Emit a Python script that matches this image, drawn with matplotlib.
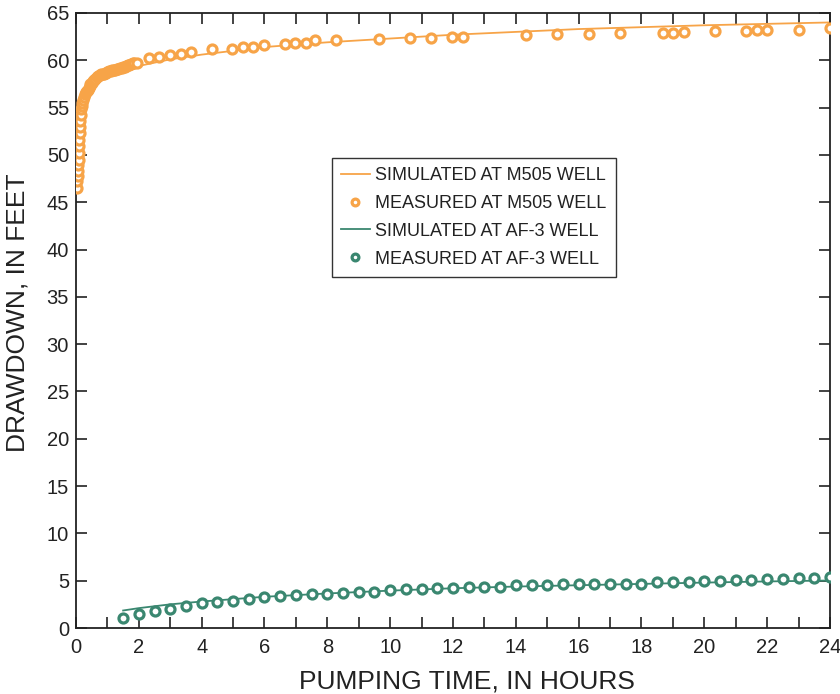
import matplotlib.pyplot as plt
from matplotlib.ticker import MultipleLocator

plt.rcParams['font.family'] = ['Liberation Sans', 'DejaVu Sans']

# simulated drawdown, M505 well
sim_m505_t = [0.0, 0.02, 0.05, 0.1, 0.2, 0.35, 0.5, 0.75, 1.0, 1.5, 2.0, 3.0, 4.0, 5.0, 6.0,
              8.0, 10.0, 12.0, 14.0, 16.0, 18.0, 20.0, 22.0, 24.0]
sim_m505_dd = [48.0, 50.5, 52.5, 54.2, 55.6, 56.6, 57.2, 57.9, 58.4, 58.9, 59.4, 60.1, 60.6,
               61.0, 61.4, 61.9, 62.3, 62.7, 63.0, 63.3, 63.5, 63.7, 63.85, 64.0]

# measured drawdown, M505 well
meas_m505_t = [0.03, 0.04, 0.05, 0.06, 0.07, 0.08, 0.09, 0.1, 0.11, 0.12, 0.13, 0.14, 0.15,
               0.16, 0.18, 0.2, 0.22, 0.25, 0.28, 0.31, 0.34, 0.37, 0.4, 0.43, 0.46, 0.5,
               0.54, 0.58, 0.62, 0.66, 0.7, 0.75, 0.8, 0.85, 0.9, 0.95, 1.0, 1.05, 1.1, 1.15,
               1.2, 1.25, 1.3, 1.35, 1.4, 1.45, 1.5, 1.55, 1.6, 1.65, 1.7, 1.75, 1.8, 1.86,
               1.95, 2.31, 2.65, 2.99, 3.33, 3.65, 4.34, 4.98, 5.32, 5.64, 5.98, 6.65, 6.98,
               7.32, 7.62, 8.29, 9.65, 10.63, 11.30, 11.98, 12.31, 14.32, 15.32, 16.33, 17.33,
               18.68, 19.01, 19.34, 20.33, 21.34, 21.67, 22.01, 23.0, 24.0]
meas_m505_dd = [46.5, 47.2, 47.8, 48.3, 48.9, 49.5, 50.2, 50.9, 51.6, 52.3, 53.0, 53.6, 54.2,
                54.8, 55.2, 55.5, 55.8, 56.1, 56.4, 56.6, 56.8, 56.9, 57.1, 57.3, 57.5, 57.6,
                57.8, 57.9, 58.0, 58.2, 58.3, 58.4, 58.5, 58.6, 58.6, 58.7, 58.8, 58.9, 58.9,
                59.0, 59.0, 59.0, 59.1, 59.1, 59.15, 59.2, 59.3, 59.3, 59.4, 59.5, 59.5,
                59.6, 59.7, 59.75, 59.75, 60.28, 60.39, 60.53, 60.64, 60.88, 61.17, 61.2,
                61.4, 61.4, 61.6, 61.7, 61.86, 61.86, 62.1, 62.1, 62.2, 62.36, 62.36, 62.5,
                62.5, 62.64, 62.75, 62.75, 62.9, 62.9, 62.9, 63.0, 63.14, 63.14, 63.25,
                63.25, 63.25, 63.4]

# simulated drawdown, AF-3 well
sim_af3_t = [1.5, 2.0, 3.0, 4.0, 5.0, 6.0, 8.0, 10.0, 12.0, 14.0, 16.0, 18.0, 20.0, 22.0, 24.0]
sim_af3_dd = [1.85, 2.1, 2.5, 2.8, 3.05, 3.3, 3.65, 3.95, 4.2, 4.38, 4.52, 4.66, 4.8, 4.92, 5.02]

# measured drawdown, AF-3 well
meas_af3_t = [1.5, 2.0, 2.5, 3.0, 3.5, 4.0, 4.5, 5.0, 5.5, 6.0, 6.5, 7.0, 7.5, 8.0, 8.5, 9.0,
              9.5, 10.0, 10.5, 11.0, 11.5, 12.0, 12.5, 13.0, 13.5, 14.0, 14.5, 15.0, 15.5,
              16.0, 16.5, 17.0, 17.5, 18.0, 18.5, 19.0, 19.5, 20.0, 20.5, 21.0, 21.5, 22.0,
              22.5, 23.0, 23.5, 24.0]
meas_af3_dd = [1.05, 1.45, 1.8, 2.05, 2.35, 2.6, 2.7, 2.85, 3.1, 3.25, 3.35, 3.5, 3.6, 3.6,
               3.72, 3.85, 3.85, 4.0, 4.12, 4.12, 4.25, 4.25, 4.35, 4.35, 4.35, 4.5, 4.5,
               4.55, 4.62, 4.62, 4.62, 4.62, 4.68, 4.68, 4.82, 4.82, 4.82, 4.93, 4.93, 5.07,
               5.07, 5.2, 5.2, 5.32, 5.32, 5.4]

orange = '#F7A448'
green = '#3A8770'

fig = plt.figure(figsize=(8.4, 6.94), dpi=100)
ax = fig.add_axes([0.0905, 0.0951, 0.8975, 0.8862])

ax.plot(sim_m505_t, sim_m505_dd, color=orange, lw=1.3, label='SIMULATED AT M505 WELL', zorder=2)
ax.plot(meas_m505_t, meas_m505_dd, 'o', ms=6.5, mfc='white', mec=orange, mew=2.3,
        label='MEASURED AT M505 WELL', zorder=3)
ax.plot(sim_af3_t, sim_af3_dd, color=green, lw=1.3, label='SIMULATED AT AF-3 WELL', zorder=2)
ax.plot(meas_af3_t, meas_af3_dd, 'o', ms=6.5, mfc='white', mec=green, mew=2.3,
        label='MEASURED AT AF-3 WELL', zorder=3)

ax.set_xlim(0, 24)
ax.set_ylim(0, 65)
ax.xaxis.set_major_locator(MultipleLocator(2))
ax.xaxis.set_minor_locator(MultipleLocator(1))
ax.yaxis.set_major_locator(MultipleLocator(5))
ax.tick_params(which='both', direction='in', top=True, right=True, length=8, width=1.2,
               labelsize=14.5, color='#222222', labelcolor='#222222')
ax.tick_params(axis='x', pad=7)
ax.tick_params(axis='y', pad=5)
for s in ax.spines.values():
    s.set_linewidth(1.3)
    s.set_color('#222222')

ax.set_xlabel('PUMPING TIME, IN HOURS', fontsize=19, color='#222222')
ax.set_ylabel('DRAWDOWN, IN FEET', fontsize=19, color='#222222')
ax.xaxis.set_label_coords(0.519, -0.067)
ax.yaxis.set_label_coords(-0.062, 0.513)

leg = ax.legend(loc='upper left', bbox_to_anchor=(0.3395, 0.764), fontsize=13,
                fancybox=False, edgecolor='#333333', framealpha=1, handlelength=1.6,
                handletextpad=0.3, borderpad=0.5, labelspacing=0.6, markerscale=0.75,
                borderaxespad=0)
leg.get_frame().set_linewidth(1.0)
for t in leg.get_texts():
    t.set_color('#222222')

fig.savefig('out.png', dpi=100)
